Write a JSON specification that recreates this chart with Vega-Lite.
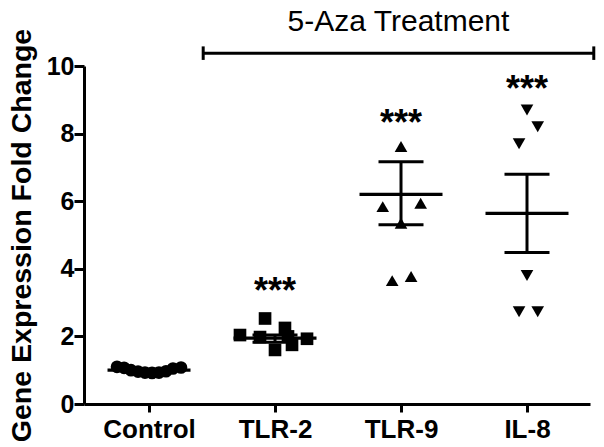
{
  "$schema": "https://vega.github.io/schema/vega-lite/v6.json",
  "autosize": {"type": "none"},
  "width": 506,
  "height": 338,
  "padding": {"left": 84, "top": 66, "right": 14, "bottom": 43},
  "background": "white",
  "config": {"view": {"stroke": null}, "font": "Liberation Sans"},
  "datasets": {
    "pts": [
      {"group": "Control", "x": 0.746, "value": 1.1},
      {"group": "Control", "x": 0.802, "value": 1.07},
      {"group": "Control", "x": 0.857, "value": 1.0},
      {"group": "Control", "x": 0.913, "value": 0.96},
      {"group": "Control", "x": 0.968, "value": 0.93},
      {"group": "Control", "x": 1.024, "value": 0.92},
      {"group": "Control", "x": 1.079, "value": 0.93},
      {"group": "Control", "x": 1.135, "value": 0.97},
      {"group": "Control", "x": 1.19, "value": 1.05},
      {"group": "Control", "x": 1.254, "value": 1.08},
      {"group": "TLR-2", "x": 1.921, "value": 2.53},
      {"group": "TLR-2", "x": 1.722, "value": 2.04},
      {"group": "TLR-2", "x": 1.881, "value": 1.98},
      {"group": "TLR-2", "x": 2.079, "value": 2.25},
      {"group": "TLR-2", "x": 2.103, "value": 2.0},
      {"group": "TLR-2", "x": 2.0, "value": 1.6},
      {"group": "TLR-2", "x": 2.135, "value": 1.75},
      {"group": "TLR-2", "x": 2.254, "value": 1.93},
      {"group": "TLR-9", "x": 3.0, "value": 7.62},
      {"group": "TLR-9", "x": 2.855, "value": 5.84},
      {"group": "TLR-9", "x": 3.156, "value": 5.94},
      {"group": "TLR-9", "x": 3.0, "value": 5.35},
      {"group": "TLR-9", "x": 2.93, "value": 3.65},
      {"group": "TLR-9", "x": 3.08, "value": 3.77},
      {"group": "IL-8", "x": 4.0, "value": 8.7},
      {"group": "IL-8", "x": 4.085, "value": 8.2},
      {"group": "IL-8", "x": 3.937, "value": 7.7},
      {"group": "IL-8", "x": 4.0, "value": 3.8},
      {"group": "IL-8", "x": 3.937, "value": 2.73},
      {"group": "IL-8", "x": 4.085, "value": 2.73}
    ],
    "summary": [
      {"group": "Control", "x": 1, "mean": 1.0, "lo": 0.97, "hi": 1.03},
      {"group": "TLR-2", "x": 2, "mean": 1.95, "lo": 1.83, "hi": 2.04},
      {"group": "TLR-9", "x": 3, "mean": 6.2, "lo": 5.3, "hi": 7.17},
      {"group": "IL-8", "x": 4, "mean": 5.64, "lo": 4.48, "hi": 6.8}
    ],
    "stars": [
      {"x": 2, "y": 3.52, "label": "***"},
      {"x": 3, "y": 8.5, "label": "***"},
      {"x": 4, "y": 9.5, "label": "***"}
    ],
    "bracket": [{"x": 1.43, "x2": 4.53, "y": 10.38}],
    "bracketEnds": [
      {"x": 1.43, "y": 10.18, "y2": 10.58},
      {"x": 4.53, "y": 10.18, "y2": 10.58}
    ],
    "bracketLabel": [{"x": 2.98, "y": 11.3, "label": "5-Aza Treatment"}]
  },
  "layer": [
    {
      "data": {"name": "pts"},
      "mark": {"type": "point", "filled": true, "opacity": 1, "color": "black", "size": 160},
      "encoding": {
        "x": {
          "field": "x", "type": "quantitative",
          "scale": {"domain": [0.484, 4.5], "nice": false, "zero": false},
          "axis": {
            "title": null,
            "values": [1, 2, 3, 4],
            "labelExpr": "['', 'Control', 'TLR-2', 'TLR-9', 'IL-8'][datum.value]",
            "grid": false,
            "domainColor": "black", "domainWidth": 3,
            "tickColor": "black", "tickWidth": 3, "tickSize": 8,
            "labelFont": "Liberation Sans", "labelFontWeight": "bold", "labelFontSize": 26,
            "labelColor": "black", "labelPadding": 4, "labelFlush": false
          }
        },
        "y": {
          "field": "value", "type": "quantitative",
          "scale": {"domain": [0, 10], "nice": false},
          "axis": {
            "title": "Gene Expression Fold Change",
            "values": [0, 1, 2, 3, 4, 5, 6, 7, 8, 9, 10],
            "labelExpr": "datum.value % 2 === 0 ? datum.label : ''",
            "grid": false,
            "domainColor": "black", "domainWidth": 3,
            "tickColor": "black", "tickWidth": 3,
            "tickSize": {"condition": {"test": "datum.value % 2 === 0", "value": 10}, "value": 5},
            "labelFont": "Liberation Sans", "labelFontWeight": "bold", "labelFontSize": 25,
            "labelColor": "black", "labelPadding": 0, "labelFlush": false,
            "titleFont": "Liberation Sans", "titleFontWeight": "bold", "titleFontSize": 28.5,
            "titleColor": "black", "titlePadding": 10
          }
        },
        "shape": {
          "field": "group", "type": "nominal",
          "scale": {"domain": ["Control", "TLR-2", "TLR-9", "IL-8"], "range": ["circle", "square", "triangle-up", "triangle-down"]},
          "legend": null
        }
      }
    },
    {
      "data": {"name": "summary"},
      "mark": {"type": "tick", "orient": "horizontal", "size": 83, "thickness": 3.3, "color": "black", "opacity": 1},
      "encoding": {"x": {"field": "x", "type": "quantitative"}, "y": {"field": "mean", "type": "quantitative"}}
    },
    {
      "data": {"name": "summary"},
      "mark": {"type": "tick", "orient": "horizontal", "size": 45, "thickness": 3, "color": "black", "opacity": 1},
      "encoding": {"x": {"field": "x", "type": "quantitative"}, "y": {"field": "hi", "type": "quantitative"}}
    },
    {
      "data": {"name": "summary"},
      "mark": {"type": "tick", "orient": "horizontal", "size": 45, "thickness": 3, "color": "black", "opacity": 1},
      "encoding": {"x": {"field": "x", "type": "quantitative"}, "y": {"field": "lo", "type": "quantitative"}}
    },
    {
      "data": {"name": "summary"},
      "mark": {"type": "rule", "strokeWidth": 3, "color": "black"},
      "encoding": {"x": {"field": "x", "type": "quantitative"}, "y": {"field": "lo", "type": "quantitative"}, "y2": {"field": "hi"}}
    },
    {
      "data": {"name": "stars"},
      "mark": {"type": "text", "font": "Liberation Sans", "fontWeight": "bold", "fontSize": 36, "baseline": "alphabetic", "dy": 18, "color": "black"},
      "encoding": {"x": {"field": "x", "type": "quantitative"}, "y": {"field": "y", "type": "quantitative"}, "text": {"field": "label"}}
    },
    {
      "data": {"name": "bracket"},
      "mark": {"type": "rule", "strokeWidth": 3, "color": "black"},
      "encoding": {"x": {"field": "x", "type": "quantitative"}, "x2": {"field": "x2"}, "y": {"field": "y", "type": "quantitative"}}
    },
    {
      "data": {"name": "bracketEnds"},
      "mark": {"type": "rule", "strokeWidth": 3, "color": "black"},
      "encoding": {"x": {"field": "x", "type": "quantitative"}, "y": {"field": "y", "type": "quantitative"}, "y2": {"field": "y2"}}
    },
    {
      "data": {"name": "bracketLabel"},
      "mark": {"type": "text", "font": "Liberation Sans", "fontSize": 30, "baseline": "middle", "color": "black"},
      "encoding": {"x": {"field": "x", "type": "quantitative"}, "y": {"field": "y", "type": "quantitative"}, "text": {"field": "label"}}
    }
  ]
}
